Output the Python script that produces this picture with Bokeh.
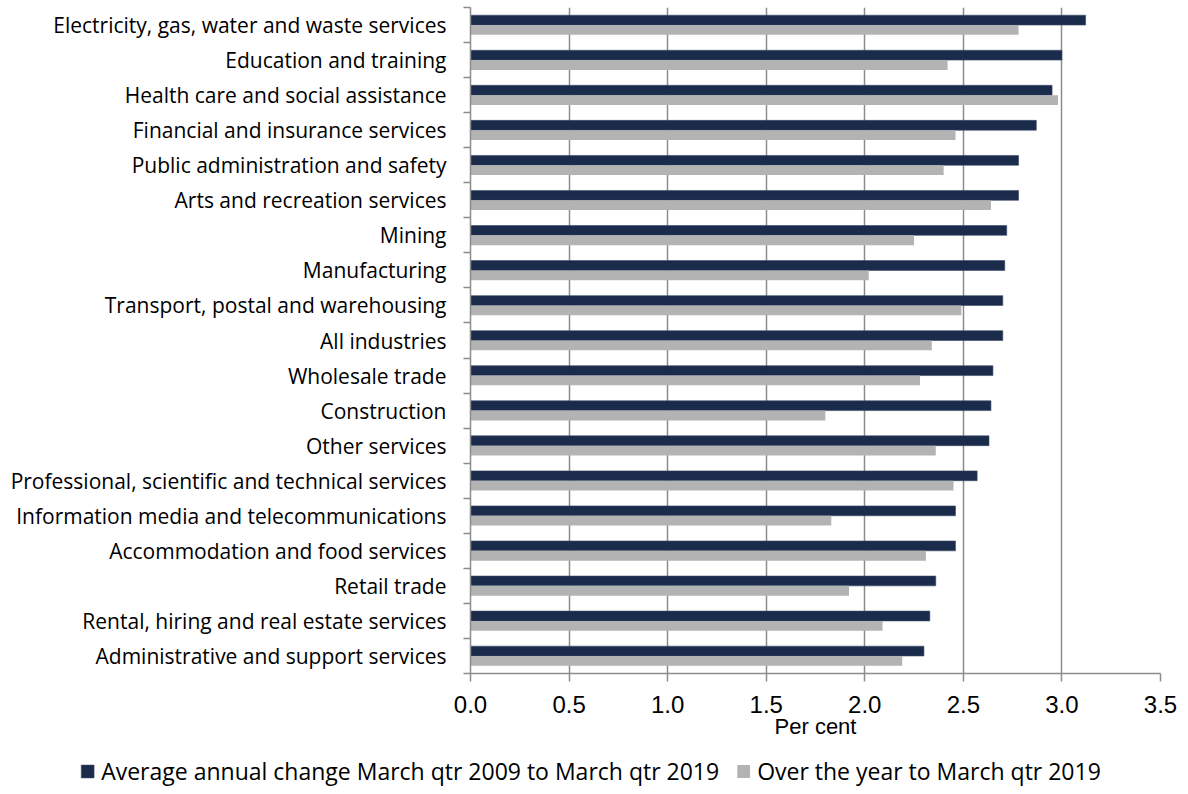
from bokeh.plotting import figure
from bokeh.models import ColumnDataSource, FixedTicker, Legend, LegendItem, NumeralTickFormatter
from bokeh.embed import file_html
from bokeh.resources import INLINE

categories = [
    "Electricity, gas, water and waste services",
    "Education and training",
    "Health care and social assistance",
    "Financial and insurance services",
    "Public administration and safety",
    "Arts and recreation services",
    "Mining",
    "Manufacturing",
    "Transport, postal and warehousing",
    "All industries",
    "Wholesale trade",
    "Construction",
    "Other services",
    "Professional, scientific and technical services",
    "Information media and telecommunications",
    "Accommodation and food services",
    "Retail trade",
    "Rental, hiring and real estate services",
    "Administrative and support services",
]
avg_annual = [3.12, 3.00, 2.95, 2.87, 2.78, 2.78, 2.72, 2.71, 2.70, 2.70,
              2.65, 2.64, 2.63, 2.57, 2.46, 2.46, 2.36, 2.33, 2.30]
over_year = [2.78, 2.42, 2.98, 2.46, 2.40, 2.64, 2.25, 2.02, 2.49, 2.34,
             2.28, 1.80, 2.36, 2.45, 1.83, 2.31, 1.92, 2.09, 2.19]
x_ticks = [0.0, 0.5, 1.0, 1.5, 2.0, 2.5, 3.0, 3.5]
series_names = ["Average annual change March qtr 2009 to March qtr 2019",
                "Over the year to March qtr 2019"]

n = len(categories)
centers = [n - i - 0.5 for i in range(n)]
bounds = list(range(n + 1))

src = ColumnDataSource(dict(
    cat=categories,
    y_dark=[c + 0.14 for c in centers],
    y_grey=[c - 0.14 for c in centers],
    avg=avg_annual,
    yr=over_year,
))

DARK = "#1B2B4B"
GREY = "#B3B3B3"
AXC = "#8C8C8C"
LABEL_FONT = "Open Sans"

p = figure(width=1180, height=753, x_range=(0, 3.5), y_range=(0, n),
           output_backend="svg", toolbar_location=None,
           min_border_top=7, min_border_right=20, min_border_left=470,
           min_border_bottom=80)

p.hbar(y="y_dark", right="avg", left=0, height=0.28, source=src,
       fill_color=DARK, line_color="#3A4A66", line_width=0.6)
p.hbar(y="y_grey", right="yr", left=0, height=0.28, source=src,
       fill_color=GREY, line_color=None)

p.outline_line_color = None
p.ygrid.grid_line_color = None
p.xgrid.grid_line_color = AXC
p.xgrid.grid_line_width = 1.5
p.xgrid.ticker = FixedTicker(ticks=x_ticks)

# x axis
p.xaxis.ticker = FixedTicker(ticks=x_ticks)
p.xaxis.formatter = NumeralTickFormatter(format="0.0")
p.xaxis.axis_line_color = AXC
p.xaxis.axis_line_width = 1.5
p.xaxis.major_tick_line_color = AXC
p.xaxis.major_tick_line_width = 1.5
p.xaxis.major_tick_in = 0
p.xaxis.major_tick_out = 8
p.xaxis.minor_tick_line_color = None
p.xaxis.major_label_text_font = "Liberation Sans"
p.xaxis.major_label_text_font_size = "24px"
p.xaxis.major_label_text_color = "#000000"
p.xaxis.major_label_standoff = 14
p.xaxis.axis_label = "Per cent"
p.xaxis.axis_label_text_font = "Liberation Sans"
p.xaxis.axis_label_text_font_size = "22px"
p.xaxis.axis_label_text_font_style = "normal"
p.xaxis.axis_label_text_color = "#000000"
p.xaxis.axis_label_standoff = -2

# y axis: labels at centres, tick marks at category boundaries
p.yaxis.ticker = FixedTicker(ticks=centers, minor_ticks=bounds)
p.yaxis.major_label_overrides = {c: lab for c, lab in zip(centers, categories)}
p.yaxis.major_tick_line_color = None
p.yaxis.major_tick_out = 0
p.yaxis.major_tick_in = 0
p.yaxis.minor_tick_line_color = AXC
p.yaxis.minor_tick_line_width = 1.5
p.yaxis.minor_tick_out = 7
p.yaxis.minor_tick_in = 0
p.yaxis.axis_line_color = AXC
p.yaxis.axis_line_width = 1.5
p.yaxis.major_label_text_font = LABEL_FONT
p.yaxis.major_label_text_font_size = "21px"
p.yaxis.major_label_text_color = "#000000"
p.yaxis.major_label_standoff = 17

# legend strip below the chart (separate root, so its frame spans the full width).
# Its view window lies above all category rows, so the bars themselves are not shown here.
pl = figure(width=1180, height=36, x_range=(0, 1), y_range=(n + 5, n + 6),
            output_backend="svg", toolbar_location=None,
            min_border=0, x_axis_location=None, y_axis_location=None)
pl.outline_line_color = None
pl.grid.visible = False
l1 = pl.hbar(y="y_dark", right="avg", left=0, height=0.28, source=src,
             fill_color=DARK, line_color="#3A4A66", line_width=0.6)
l2 = pl.hbar(y="y_grey", right="yr", left=0, height=0.28, source=src,
             fill_color=GREY, line_color=None)

legend = Legend(items=[
    LegendItem(label=series_names[0], renderers=[l1], index=0),
    LegendItem(label=series_names[1], renderers=[l2], index=0),
], orientation="horizontal", location="center")
legend.border_line_color = None
legend.background_fill_alpha = 0
legend.label_text_font = LABEL_FONT
legend.label_text_font_size = "23px"
legend.label_text_color = "#000000"
legend.glyph_width = 16
legend.glyph_height = 16
legend.label_standoff = 6
legend.spacing = 16
legend.padding = 0
legend.margin = 0
pl.add_layout(legend, "center")

open("out.html", "w").write(file_html([p, pl], INLINE))
